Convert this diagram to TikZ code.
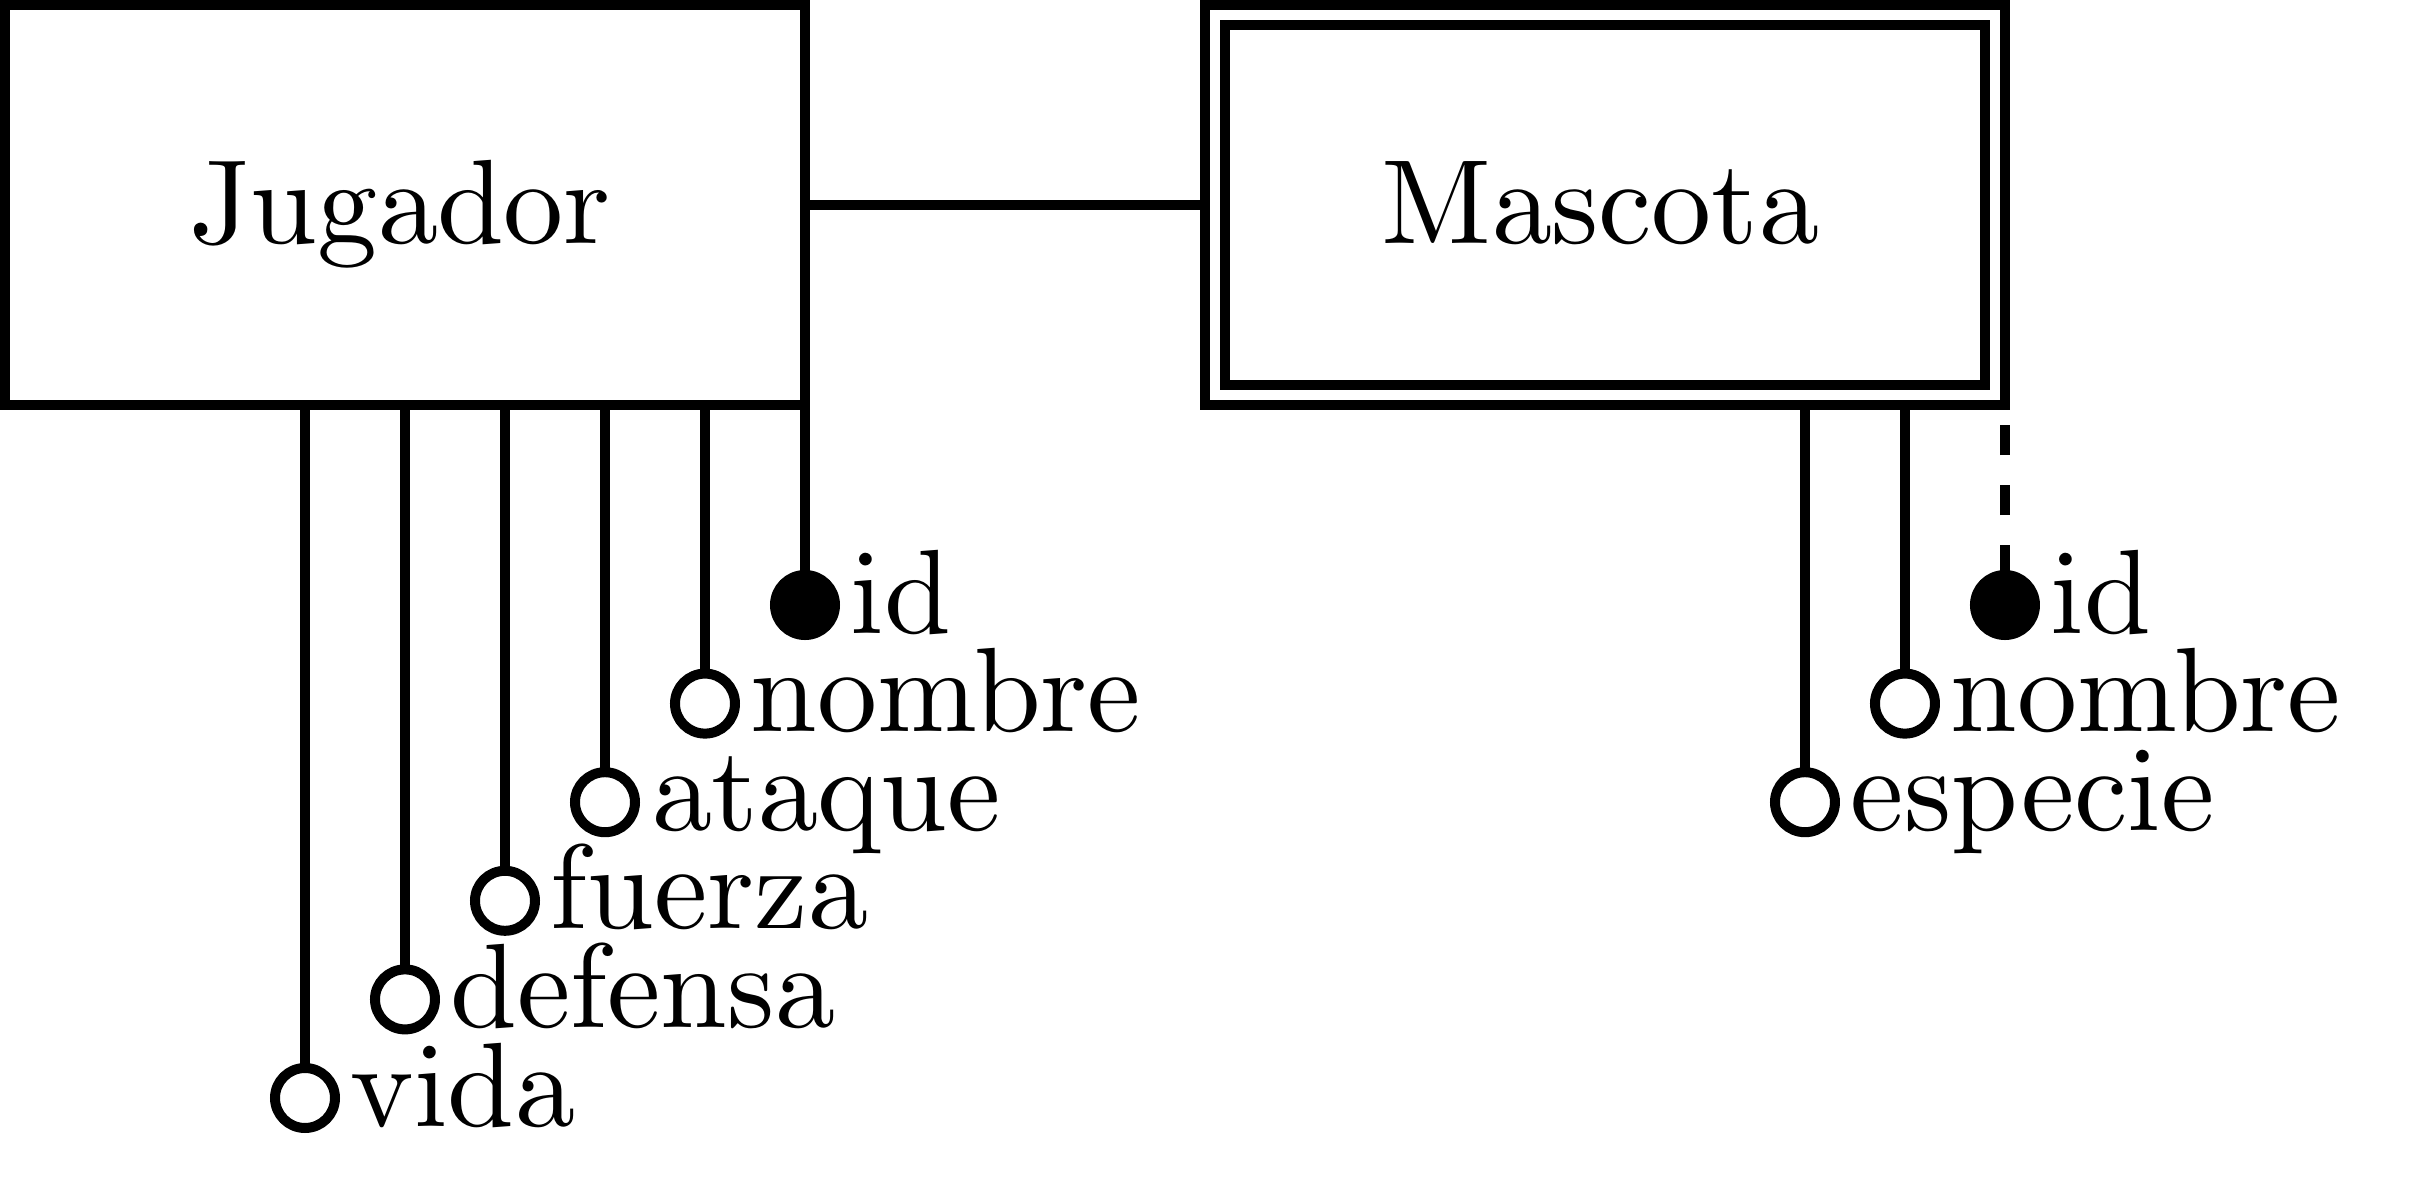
\documentclass[tikz,border=0pt]{standalone}
\usetikzlibrary{calc}
\font\erfont=cmr10 at 12pt
\begin{document}
\begin{tikzpicture}[
  line width=1pt,
  every node/.style={outer sep=0pt, inner sep=0pt},
  ent/.style={draw, rectangle, minimum width=80pt, minimum height=40pt,
    font=\erfont, text height=10pt, text depth=2.4pt},
  attr/.style={draw, circle, minimum size=6pt, fill=white},
  keyattr/.style={draw, circle, minimum size=6pt, fill=black},
  lbl/.style={anchor=base west, font=\erfont},
]
\useasboundingbox (0,0) rectangle (242pt,-118pt);

% entities
\node[ent] (jug) at (40.5pt,-20.5pt) {Jugador\kern1pt};
\node[ent] (mas) at (160.5pt,-20.5pt) {Mascota\kern1pt};
\draw ([shift={(2pt,-2pt)}]mas.north west) rectangle ([shift={(-2pt,2pt)}]mas.south east);
\draw (jug.east) -- (mas.west);

% Jugador attributes
\node[keyattr] (jid)  at (80.5pt,-60.5pt)  {};
\node[attr]    (jnom) at (70.5pt,-70.36pt) {};
\node[attr]    (jata) at (60.5pt,-80.22pt) {};
\node[attr]    (jfue) at (50.5pt,-90.08pt) {};
\node[attr]    (jdef) at (40.5pt,-99.94pt) {};
\node[attr]    (jvid) at (30.5pt,-109.8pt) {};

\foreach \c in {jid,jnom,jata,jfue,jdef,jvid}
  \draw (\c.north |- jug.south) -- (\c.north);

\node[lbl] (ljid)  at ([xshift=1.6pt,yshift=-2.8pt]jid.east)  {id};
\node[lbl] (ljnom) at ([xshift=1.6pt,yshift=-2.8pt]jnom.east) {nombre};
\node[lbl] (ljata) at ([xshift=1.6pt,yshift=-2.8pt]jata.east) {ataque};
\node[lbl] (ljfue) at ([xshift=1.6pt,yshift=-2.8pt]jfue.east) {fuerza};
\node[lbl] (ljdef) at ([xshift=1.6pt,yshift=-2.8pt]jdef.east) {defensa};
\node[lbl] (ljvid) at ([xshift=1.6pt,yshift=-2.8pt]jvid.east) {vida};

% Mascota attributes
\node[keyattr] (mid)  at (200.5pt,-60.5pt)  {};
\node[attr]    (mnom) at (190.5pt,-70.36pt) {};
\node[attr]    (mesp) at (180.5pt,-80.22pt) {};

\draw[dashed] (mid.north) -- (mid.north |- mas.south);
\draw (mnom.north |- mas.south) -- (mnom.north);
\draw (mesp.north |- mas.south) -- (mesp.north);

\node[lbl] (lmid)  at ([xshift=1.6pt,yshift=-2.8pt]mid.east)  {id};
\node[lbl] (lmnom) at ([xshift=1.6pt,yshift=-2.8pt]mnom.east) {nombre};
\node[lbl] (lmesp) at ([xshift=1.6pt,yshift=-2.8pt]mesp.east) {especie};
\end{tikzpicture}
\end{document}
